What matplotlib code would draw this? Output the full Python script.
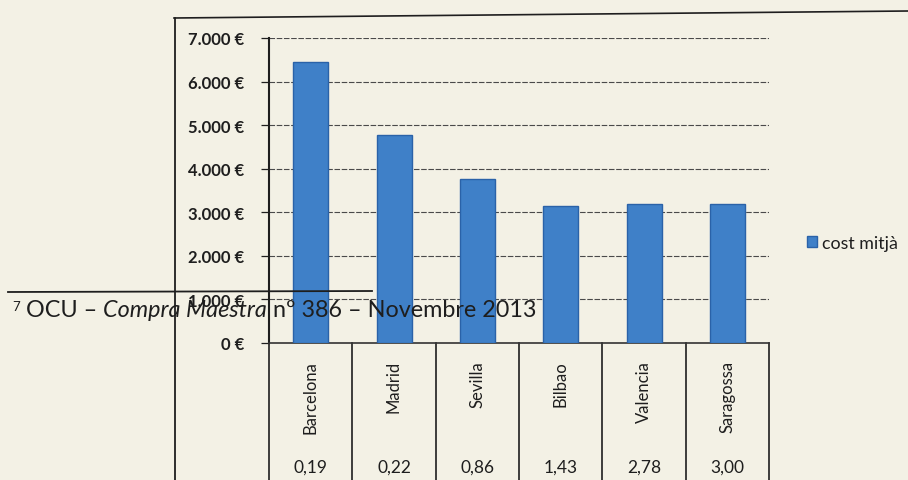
import matplotlib.pyplot as plt
from matplotlib.lines import Line2D

# data
cities = ['Barcelona', 'Madrid', 'Sevilla', 'Bilbao', 'Valencia', 'Saragossa']
cost = [6440, 4780, 3760, 3150, 3200, 3180]
table_vals = ['0,19', '0,22', '0,86', '1,43', '2,78', '3,00']
yticks = [0, 1000, 2000, 3000, 4000, 5000, 6000, 7000]
ytick_labels = ['0 €', '1.000 €', '2.000 €', '3.000 €', '4.000 €', '5.000 €', '6.000 €', '7.000 €']
series_name = 'cost mitjà'
footnote = ['OCU – ', 'Compra Maestra', ' nº 386 – Novembre 2013']

paper = '#f3f1e5'
ink = '#1e1e1e'
blue = '#3f80c8'

plt.rcParams['font.family'] = ['Lato', 'DejaVu Sans']

W, H = 908, 481
fig = plt.figure(figsize=(W / 100, H / 100), dpi=100, facecolor=paper)

def fx(px):
    return px / W

def fy(py):
    return 1 - py / H

ax = fig.add_axes([fx(269), fy(344), fx(769) - fx(269), fy(39) - fy(344)])
ax.set_facecolor('none')

ax.bar(range(len(cities)), cost, width=0.42, color=blue, edgecolor='#2a62a8',
       linewidth=1.0, label=series_name, zorder=3)

ax.set_xlim(-0.5, len(cities) - 0.5)
ax.set_ylim(0, 7000)
ax.set_yticks(yticks)
ax.set_yticklabels(ytick_labels, fontsize=12, fontweight='bold', color=ink)
ax.tick_params(axis='y', length=6, width=0.9, color=ink, pad=12)
ax.set_xticks([])

for v in yticks[1:]:
    ax.axhline(v, color='#4a4a4a', lw=0.8, ls=(0, (5, 1.5)), zorder=1)

for s in ['top', 'right']:
    ax.spines[s].set_visible(False)
ax.spines['left'].set_linewidth(1.5)
ax.spines['left'].set_color(ink)
ax.spines['bottom'].set_linewidth(1.2)
ax.spines['bottom'].set_color('#333333')

# data table under the chart
tr = ax.get_xaxis_transform()
for i in range(len(cities) + 1):
    ax.add_line(Line2D([i - 0.5, i - 0.5], [0, -0.5], transform=tr, color=ink,
                       lw=1.2, clip_on=False))
for i, (c, v) in enumerate(zip(cities, table_vals)):
    ax.text(i, -0.055, c, rotation=90, ha='center', va='top', transform=tr,
            fontsize=12, color=ink)
    ax.text(i, -0.405, v, ha='center', va='center', transform=tr,
            fontsize=12.5, color=ink)

ax.legend(loc='center left', bbox_to_anchor=(fx(791), fy(244)),
          bbox_transform=fig.transFigure, frameon=False, fontsize=12.8,
          handlelength=0.55, handleheight=0.55, handletextpad=0.3,
          labelcolor=ink)

# scan borders of the page
fig.add_artist(Line2D([fx(174), fx(908)], [fy(19), fy(12)], color=ink, lw=1.2))
fig.add_artist(Line2D([fx(175), fx(175)], [fy(19), fy(481)], color=ink, lw=1.3))
fig.add_artist(Line2D([fx(8), fx(372)], [fy(293), fy(292)], color=ink, lw=1.3))

# footnote from the page behind the chart (overlaps the chart in the scan)
fig.text(fx(12), fy(311), '7', fontsize=9.5, color=ink, va='baseline')
t = fig.text(fx(26), fy(317), footnote[0], fontsize=16.8, color=ink, va='baseline')
t = ax.annotate(footnote[1], xy=(1, 0), xycoords=t, fontsize=16.8, color=ink,
                style='italic', va='bottom', annotation_clip=False)
ax.annotate(footnote[2], xy=(1, 0), xycoords=t, fontsize=16.8, color=ink,
            va='bottom', annotation_clip=False)

fig.savefig('out.png', dpi=100, facecolor=paper)
